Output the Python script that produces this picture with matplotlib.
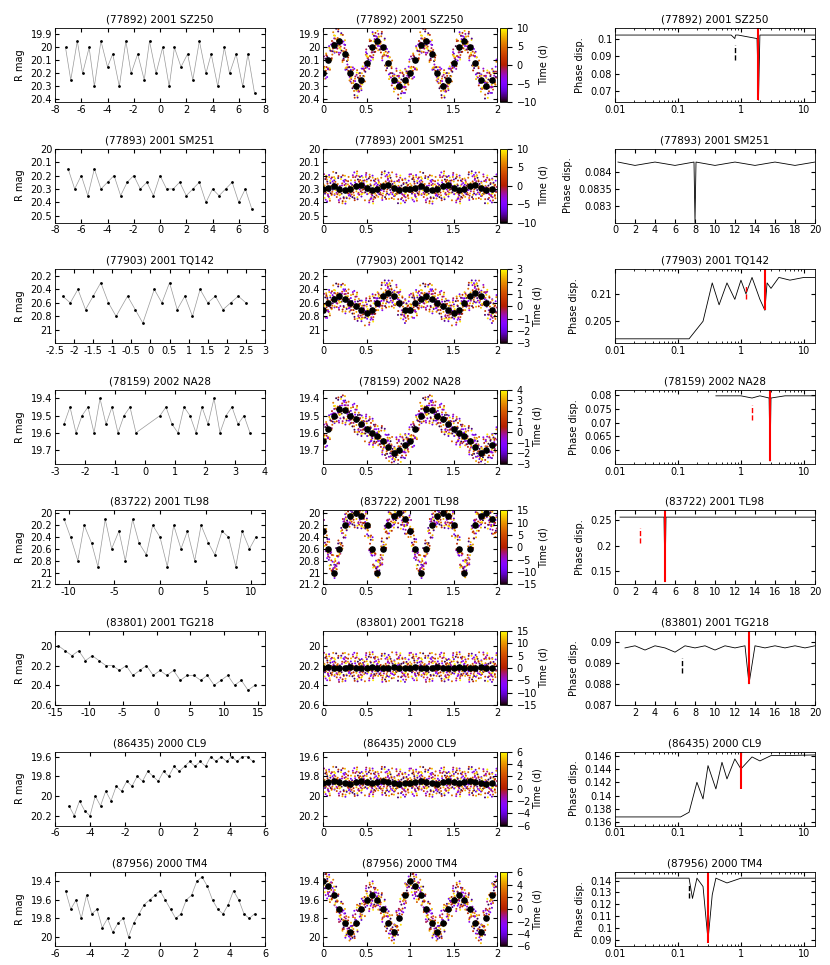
import matplotlib
matplotlib.use("Agg")
import matplotlib.pyplot as plt
import numpy as np

titles = ["(77892) 2001 SZ250", "(77893) 2001 SM251", "(77903) 2001 TQ142", "(78159) 2002 NA28",
          "(83722) 2001 TL98", "(83801) 2001 TG218", "(86435) 2000 CL9", "(87956) 2000 TM4"]

# left panels: time (d) and R mag
lc_t = [
    [-7.2,-6.8,-6.3,-5.9,-5.4,-5.0,-4.5,-4.0,-3.6,-3.1,-2.6,-2.2,-1.7,-1.2,-0.8,-0.3,0.2,0.7,1.1,1.6,2.1,2.5,3.0,3.5,3.9,4.4,4.9,5.3,5.8,6.3,6.7,7.2],
    [-7.0,-6.5,-6.0,-5.5,-5.0,-4.5,-4.0,-3.5,-3.0,-2.5,-2.0,-1.5,-1.0,-0.5,0.0,0.5,1.0,1.5,2.0,2.5,3.0,3.5,4.0,4.5,5.0,5.5,6.0,6.5,7.0],
    [-2.3,-2.1,-1.9,-1.7,-1.5,-1.3,-1.1,-0.9,-0.6,-0.4,-0.2,0.1,0.3,0.5,0.7,0.9,1.1,1.3,1.5,1.7,1.9,2.1,2.3,2.5],
    [-2.7,-2.5,-2.3,-2.1,-1.9,-1.7,-1.5,-1.3,-1.1,-0.9,-0.7,-0.5,-0.3,0.5,0.7,0.9,1.1,1.3,1.5,1.7,1.9,2.1,2.3,2.5,2.7,2.9,3.1,3.3,3.5],
    [-10.5,-9.8,-9.0,-8.3,-7.5,-6.8,-6.0,-5.3,-4.5,-3.8,-3.0,-2.3,-1.5,-0.8,0.0,0.8,1.5,2.3,3.0,3.8,4.5,5.3,6.0,6.8,7.5,8.3,9.0,9.8,10.5],
    [-14.5,-13.5,-12.5,-11.5,-10.5,-9.5,-8.5,-7.5,-6.5,-5.5,-4.5,-3.5,-2.5,-1.5,-0.5,0.5,1.5,2.5,3.5,4.5,5.5,6.5,7.5,8.5,9.5,10.5,11.5,12.5,13.5,14.5],
    [-5.2,-4.9,-4.6,-4.3,-4.0,-3.7,-3.4,-3.1,-2.8,-2.5,-2.2,-1.9,-1.6,-1.3,-1.0,-0.7,-0.4,-0.1,0.2,0.5,0.8,1.1,1.4,1.7,2.0,2.3,2.6,2.9,3.2,3.5,3.8,4.1,4.4,4.7,5.0,5.3],
    [-5.4,-5.1,-4.8,-4.5,-4.2,-3.9,-3.6,-3.3,-3.0,-2.7,-2.4,-2.1,-1.8,-1.5,-1.2,-0.9,-0.6,-0.3,0.0,0.3,0.6,0.9,1.2,1.5,1.8,2.1,2.4,2.7,3.0,3.3,3.6,3.9,4.2,4.5,4.8,5.1,5.4],
]
lc_m = [
    [20.0,20.25,19.95,20.2,20.0,20.3,19.95,20.15,20.05,20.3,19.95,20.2,20.05,20.25,19.95,20.2,20.0,20.3,20.0,20.15,20.05,20.25,19.95,20.2,20.05,20.3,20.0,20.2,20.05,20.3,20.05,20.35],
    [20.15,20.3,20.2,20.35,20.15,20.3,20.25,20.2,20.35,20.25,20.2,20.3,20.25,20.35,20.2,20.3,20.3,20.25,20.35,20.3,20.25,20.4,20.3,20.35,20.3,20.25,20.4,20.3,20.45],
    [20.5,20.6,20.4,20.7,20.5,20.3,20.6,20.8,20.5,20.7,20.9,20.4,20.6,20.3,20.7,20.5,20.8,20.4,20.6,20.5,20.7,20.6,20.5,20.6],
    [19.55,19.45,19.6,19.5,19.45,19.6,19.4,19.55,19.45,19.6,19.5,19.45,19.6,19.5,19.45,19.55,19.6,19.45,19.5,19.6,19.45,19.55,19.4,19.6,19.5,19.45,19.55,19.5,19.6],
    [20.1,20.4,20.8,20.2,20.5,20.9,20.1,20.6,20.3,20.8,20.1,20.5,20.7,20.2,20.4,20.9,20.2,20.6,20.3,20.8,20.2,20.5,20.7,20.3,20.4,20.9,20.3,20.6,20.4],
    [20.0,20.05,20.1,20.05,20.15,20.1,20.15,20.2,20.2,20.25,20.2,20.3,20.25,20.2,20.3,20.25,20.3,20.25,20.35,20.3,20.3,20.35,20.3,20.4,20.35,20.3,20.4,20.35,20.45,20.4],
    [20.1,20.2,20.05,20.15,20.2,20.0,20.1,19.95,20.05,19.9,19.95,19.85,19.9,19.8,19.85,19.75,19.8,19.85,19.75,19.8,19.7,19.75,19.7,19.65,19.7,19.65,19.7,19.6,19.65,19.6,19.65,19.6,19.65,19.6,19.6,19.65],
    [19.5,19.7,19.6,19.8,19.55,19.75,19.7,19.9,19.8,19.95,19.85,19.8,20.0,19.85,19.75,19.65,19.6,19.55,19.5,19.6,19.7,19.8,19.75,19.6,19.55,19.4,19.35,19.45,19.6,19.7,19.75,19.65,19.5,19.6,19.75,19.8,19.75],
]
lc_xlim = [(-8,8),(-8,8),(-2.5,3),(-3,4),(-11.5,11.5),(-15,16),(-6,6),(-6,6)]
lc_ylim = [(20.42,19.85),(20.55,20.0),(21.2,20.1),(19.78,19.35),(21.2,19.95),(20.6,19.85),(20.3,19.55),(20.1,19.3)]
lc_xt = [[-8,-6,-4,-2,0,2,4,6,8],[-8,-6,-4,-2,0,2,4,6,8],[-2.5,-2,-1.5,-1,-0.5,0,0.5,1,1.5,2,2.5,3],
         [-3,-2,-1,0,1,2,3,4],[-10,-5,0,5,10],[-15,-10,-5,0,5,10,15],[-6,-4,-2,0,2,4,6],[-6,-4,-2,0,2,4,6]]
lc_yt = [[19.9,20,20.1,20.2,20.3,20.4],[20,20.1,20.2,20.3,20.4,20.5],[20.2,20.4,20.6,20.8,21],
         [19.4,19.5,19.6,19.7],[20,20.2,20.4,20.6,20.8,21,21.2],[20,20.2,20.4,20.6],[19.6,19.8,20,20.2],[19.4,19.6,19.8,20]]

# middle panels: binned mean over one rotational phase
ph_mean = [
    [20.2,20.1,19.98,19.95,20.05,20.2,20.3,20.25,20.12,20.0,19.95,20.0,20.12,20.25,20.3,20.25],
    [20.3,20.29,20.28,20.3,20.31,20.3,20.28,20.27,20.29,20.31,20.3,20.28,20.27,20.29,20.31,20.3],
    [20.7,20.6,20.55,20.5,20.55,20.6,20.65,20.7,20.75,20.7,20.6,20.5,20.45,20.5,20.6,20.7],
    [19.65,19.58,19.5,19.46,19.47,19.5,19.52,19.55,19.58,19.6,19.62,19.65,19.68,19.72,19.7,19.67],
    [20.3,20.6,21.0,20.6,20.2,20.05,20.0,20.05,20.2,20.6,21.0,20.6,20.2,20.05,20.0,20.1],
    [20.22,20.21,20.22,20.23,20.22,20.21,20.22,20.23,20.22,20.21,20.22,20.23,20.22,20.21,20.22,20.23],
    [19.87,19.86,19.85,19.86,19.87,19.88,19.86,19.85,19.86,19.87,19.86,19.85,19.86,19.87,19.88,19.87],
    [19.4,19.45,19.55,19.7,19.85,19.95,19.85,19.7,19.6,19.55,19.6,19.7,19.85,19.95,19.8,19.55],
]
ph_ylim = [(20.42,19.85),(20.55,20.0),(21.2,20.1),(19.78,19.35),(21.2,19.95),(20.6,19.85),(20.3,19.55),(20.1,19.3)]
ph_clim = [(-10,10),(-10,10),(-3,3),(-3,4),(-15,15),(-15,15),(-6,6),(-6,6)]
ph_ct = [[-10,-5,0,5,10],[-10,-5,0,5,10],[-3,-2,-1,0,1,2,3],[-3,-2,-1,0,1,2,3,4],
         [-15,-10,-5,0,5,10,15],[-15,-10,-5,0,5,10,15],[-6,-4,-2,0,2,4,6],[-6,-4,-2,0,2,4,6]]
ph_scatter = [0.09,-0.06,0.03,-0.1,0.07,-0.02,0.11,-0.08,0.05,-0.04,0.01,-0.12,0.08,-0.03,
              0.13,-0.05,0.02,-0.09,0.06,-0.14,0.04,-0.01]
ph_tfrac = [0.9,-0.7,0.3,-0.2,0.6,-0.9,0.1,0.8,-0.5,0.4,-0.1,0.7,-0.6,0.2,-0.8,0.5,-0.3,0.95,-0.4,0.0,0.75,-0.85]
ph_shift = [0.31,0.07,0.53,0.19,0.88,0.42,0.65,0.04,0.76,0.27,0.95,0.58,0.12,0.83,0.36,0.71,0.49,0.22,0.91,0.61,0.15,0.79]

# right panels: phase dispersion vs frequency
pd_log = [True, False, True, True, False, False, True, True]
pd_x = [
    [0.01,0.7,0.8,0.82,0.9,1.8,1.9,2.0,15],
    [0.3,2,4,6,7.9,8.0,8.1,10,12,14,16,18,20],
    [0.01,0.15,0.25,0.35,0.45,0.6,0.8,1.0,1.2,1.5,2.0,2.4,2.6,3.0,4,6,10,15],
    [0.4,1.0,1.5,2.0,2.8,2.9,3.0,5,10,15],
    [0.5,4.9,5.0,5.1,10,15,20],
    [1.0,2,3,4,5,6,7,8,9,10,11,12,13,13.4,14,15,16,17,18,19,20],
    [0.01,0.11,0.15,0.2,0.25,0.3,0.4,0.5,0.6,0.8,1.0,1.5,2,3,5,15],
    [0.01,0.15,0.17,0.2,0.25,0.3,0.35,0.4,0.6,1.0,15],
]
pd_y = [
    [0.102,0.102,0.1,0.102,0.102,0.1,0.065,0.102,0.102],
    [0.0843,0.0842,0.0843,0.0842,0.0843,0.0825,0.0843,0.0842,0.0843,0.0842,0.0843,0.0842,0.0843],
    [0.2018,0.2018,0.205,0.212,0.208,0.212,0.209,0.2125,0.210,0.213,0.209,0.207,0.212,0.211,0.213,0.2125,0.213,0.213],
    [0.0798,0.0798,0.079,0.0798,0.079,0.056,0.079,0.0798,0.0798,0.0798],
    [0.255,0.255,0.13,0.255,0.255,0.255,0.255],
    [0.0897,0.0898,0.0896,0.0898,0.0897,0.0895,0.0898,0.0897,0.0898,0.0896,0.0898,0.0897,0.0898,0.088,0.0898,0.0897,0.0898,0.0897,0.0898,0.0897,0.0898],
    [0.1368,0.1368,0.1375,0.1420,0.1395,0.1445,0.1410,0.1450,0.1425,0.1455,0.1440,0.1458,0.1452,0.1460,0.1460,0.1461],
    [0.142,0.142,0.125,0.142,0.135,0.09,0.128,0.142,0.138,0.142,0.142],
]
pd_xlim = [(0.01,15),(0,20),(0.01,15),(0.01,15),(0,20),(0,20),(0.01,15),(0.01,15)]
pd_ylim = [(0.064,0.106),(0.0825,0.0847),(0.201,0.2145),(0.055,0.082),(0.125,0.268),(0.087,0.0905),(0.1355,0.1466),(0.085,0.147)]
pd_yt = [[0.07,0.08,0.09,0.1],[0.083,0.0835,0.084],[0.205,0.21],[0.06,0.065,0.07,0.075,0.08],
         [0.15,0.2,0.25],[0.087,0.088,0.089,0.09],[0.136,0.138,0.14,0.142,0.144,0.146],[0.09,0.1,0.11,0.12,0.13,0.14]]
pd_xt = [None,[0,2,4,6,8,10,12,14,16,18,20],None,None,[0,2,4,6,8,10,12,14,16,18,20],[2,4,6,8,10,12,14,16,18,20],None,None]
pd_red = [1.9,None,2.4,2.9,5.0,13.4,1.0,0.3]
pd_red_y = [0.065,None,0.207,0.056,0.13,0.088,0.141,0.088]
pd_dash = [0.8,None,1.2,1.5,2.5,6.7,None,0.15]
pd_dash_y = [0.088,None,0.209,0.071,0.205,0.0885,None,0.125]
pd_dash_c = ["black",None,"red","red","red","black",None,"black"]

plt.rcParams["font.size"] = 7
fig = plt.figure(figsize=(8.3, 9.65), dpi=100)
W, H = 830, 965
cmap = plt.get_cmap("gnuplot")

def ax_at(x0, y0, x1, y1):
    return fig.add_axes([x0 / W, 1 - y1 / H, (x1 - x0) / W, (y1 - y0) / H])

for i in range(8):
    top = 28 + i * 120.6
    bot = top + 74
    # left
    a = ax_at(55, top, 265, bot)
    a.plot(lc_t[i], lc_m[i], color="0.6", lw=0.5)
    a.plot(lc_t[i], lc_m[i], "k.", ms=2)
    a.set_xlim(*lc_xlim[i]); a.set_ylim(*lc_ylim[i])
    a.set_xticks(lc_xt[i]); a.set_yticks(lc_yt[i])
    a.set_xticklabels([f"{v:g}" for v in lc_xt[i]]); a.set_yticklabels([f"{v:g}" for v in lc_yt[i]])
    a.set_ylabel("R mag"); a.set_title(titles[i], fontsize=7.5, pad=4)
    # middle
    b = ax_at(323, top, 497, bot)
    m = np.array(ph_mean[i]); n = len(m)
    phase = np.arange(n) / n
    rng = abs(ph_ylim[i][0] - ph_ylim[i][1])
    lo, hi = ph_clim[i]
    for k, (off, tf, sh) in enumerate(zip(ph_scatter, ph_tfrac, ph_shift)):
        tv = tf * (hi if tf > 0 else -lo)
        mm = np.interp(phase + sh / n, np.r_[phase, 1.0], np.r_[m, m[0]])
        offs = np.roll(ph_scatter, k)[:n] if n <= len(ph_scatter) else off
        for rep in (0, 1):
            b.scatter(phase + rep + sh / n, mm + np.asarray(offs) * rng * 1.4, c=np.full(n, tv), cmap=cmap,
                      vmin=lo, vmax=hi, s=2, lw=0)
    b.scatter(np.r_[phase, phase + 1], np.r_[m, m], c="k", s=14, zorder=3)
    b.set_xlim(0, 2); b.set_ylim(*ph_ylim[i])
    b.set_xticks([0, 0.5, 1, 1.5, 2]); b.set_xticklabels(["0", "0.5", "1", "1.5", "2"])
    b.set_yticks(lc_yt[i]); b.set_yticklabels([f"{v:g}" for v in lc_yt[i]])
    b.set_title(titles[i], fontsize=7.5, pad=4)
    ca = ax_at(500, top, 507, bot)
    sm = plt.cm.ScalarMappable(cmap=cmap, norm=plt.Normalize(lo, hi))
    cb = fig.colorbar(sm, cax=ca, ticks=ph_ct[i])
    cb.set_label("Time (d)", labelpad=1)
    cb.outline.set_linewidth(0.6)
    # right
    c = ax_at(615, top, 815, bot)
    c.plot(pd_x[i], pd_y[i], color="k", lw=0.6)
    if pd_red[i] is not None:
        c.vlines(pd_red[i], pd_red_y[i], pd_ylim[i][1], color="red", lw=1.5)
    if pd_dash[i] is not None:
        c.vlines(pd_dash[i], pd_dash_y[i], pd_dash_y[i] + (pd_ylim[i][1] - pd_ylim[i][0]) * 0.2,
                 color=pd_dash_c[i], lw=1, linestyles="--")
    if pd_log[i]:
        c.set_xscale("log")
        c.set_xticks([0.01, 0.1, 1, 10]); c.set_xticklabels(["0.01", "0.1", "1", "10"])
    else:
        c.set_xticks(pd_xt[i]); c.set_xticklabels([str(v) for v in pd_xt[i]])
    c.set_xlim(*pd_xlim[i]); c.set_ylim(*pd_ylim[i])
    c.set_yticks(pd_yt[i]); c.set_yticklabels([f"{v:g}" for v in pd_yt[i]])
    c.set_ylabel("Phase disp."); c.set_title(titles[i], fontsize=7.5, pad=4)
    for ax in (a, b, c):
        ax.tick_params(direction="in", length=3, pad=2, top=True, right=True)
        for s in ax.spines.values(): s.set_linewidth(0.6)
    c.tick_params(which="minor", direction="in", length=1.5, top=True, right=True)

fig.savefig("out.png", dpi=100)
